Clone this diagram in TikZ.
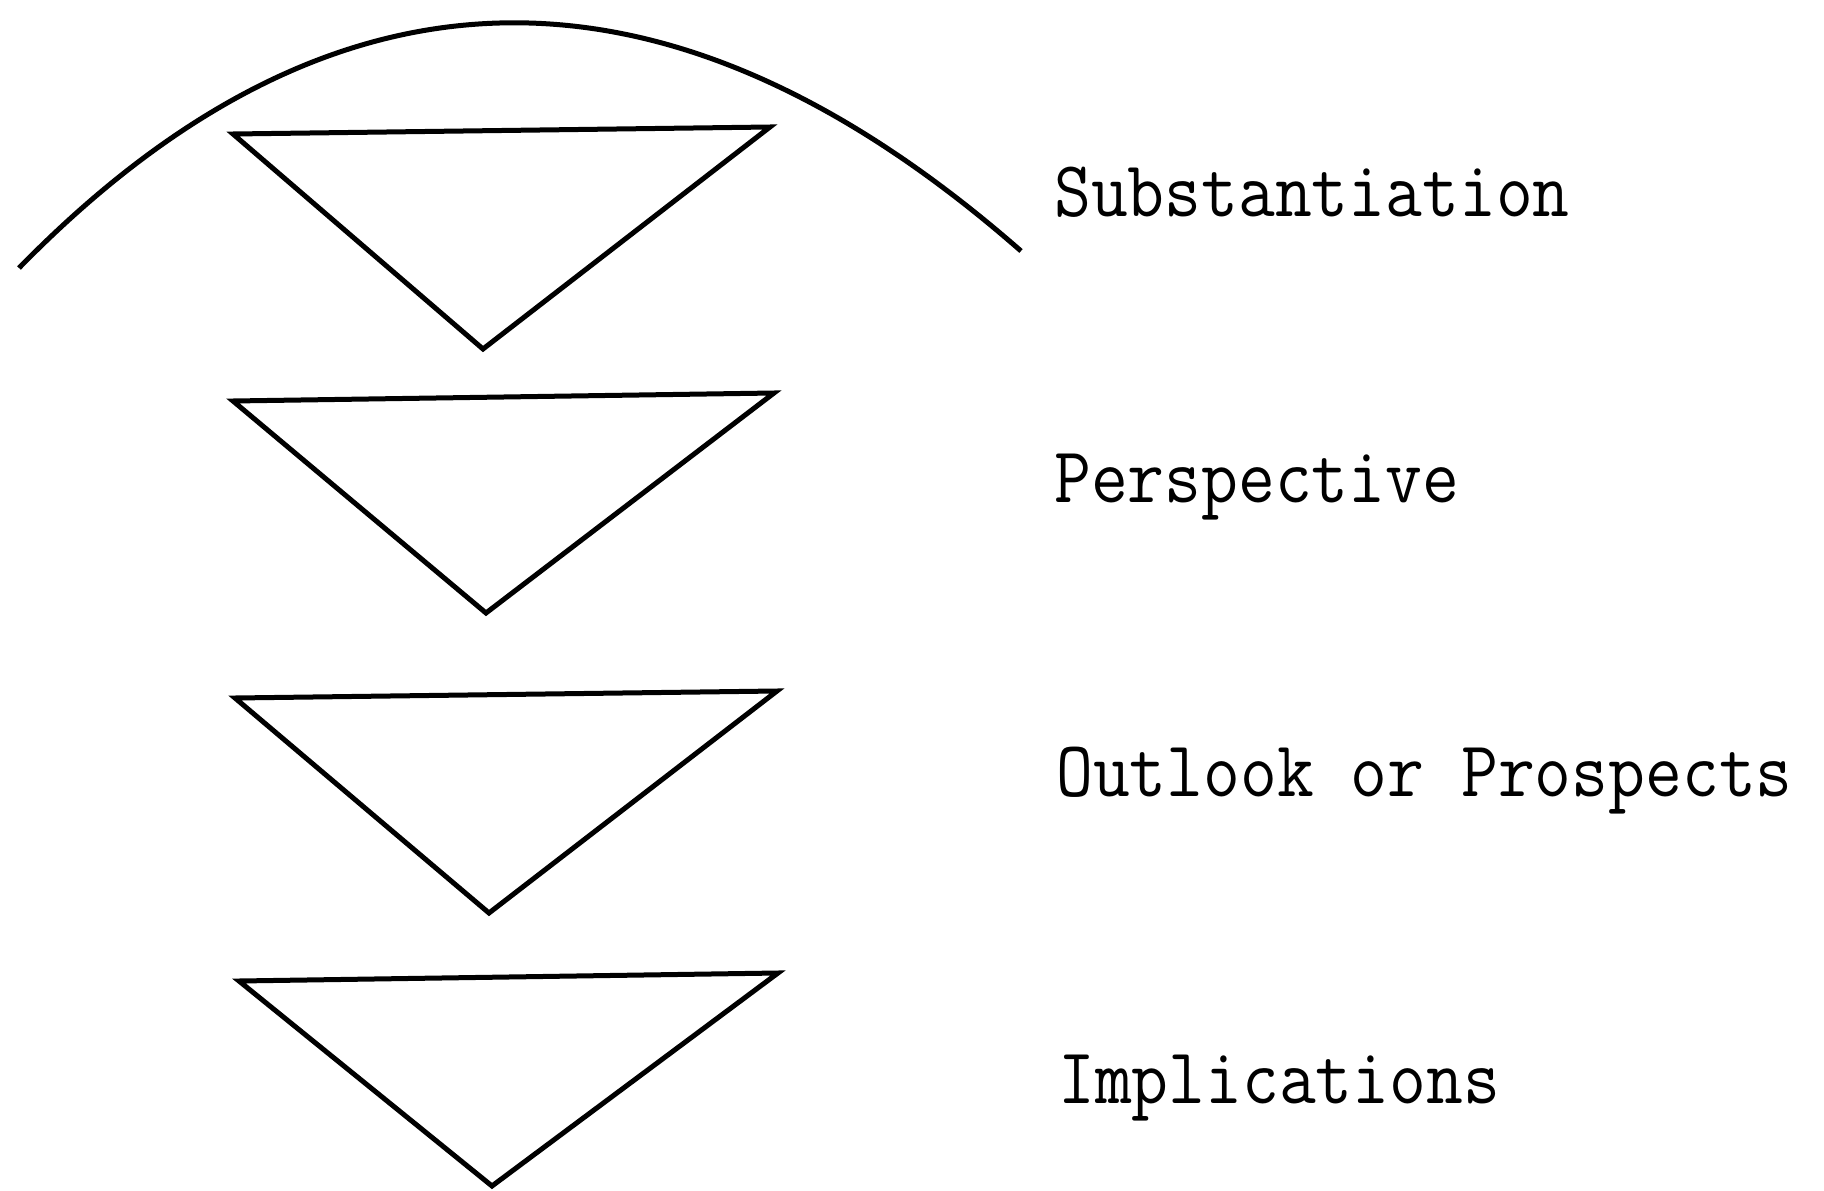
\documentclass[tikz,border=0pt]{standalone}
\usepackage{fontspec}
\usepackage{graphicx}
\begin{document}
\begin{tikzpicture}[x=1pt,y=-1pt,
  outln/.style={line width=5pt, line join=miter},
  lbl/.style={anchor=base west, inner sep=0pt, font=\ttfamily\fontsize{71.5}{80}\selectfont}]
\useasboundingbox (0,0) rectangle (1824,1191);
% arc
\coordinate (aL) at (19,268);
\coordinate (aR) at (1021,251);
\draw[outln] (aL) .. controls (333,-53) and (667,-59) .. (aR);
% triangles
\coordinate (t1a) at (233,134); \coordinate (t1b) at (770,127); \coordinate (t1c) at (483,349);
\coordinate (t2a) at (233,401); \coordinate (t2b) at (774,393); \coordinate (t2c) at (486,613);
\coordinate (t3a) at (235,698); \coordinate (t3b) at (777,691); \coordinate (t3c) at (489,913);
\coordinate (t4a) at (239,981); \coordinate (t4b) at (778,973); \coordinate (t4c) at (492,1186);
\draw[outln] (t1a) -- (t1b) -- (t1c) -- cycle;
\draw[outln] (t2a) -- (t2b) -- (t2c) -- cycle;
\draw[outln] (t3a) -- (t3b) -- (t3c) -- cycle;
\draw[outln] (t4a) -- (t4b) -- (t4c) -- cycle;
% labels
\node[lbl] (l1) at (1054,216) {\scalebox{1}[1.11]{Substantiation}};
\node[lbl] (l2) at (1054,502) {\scalebox{1}[1.11]{Perspective}};
\node[lbl] (l3) at (1056,796) {\scalebox{1}[1.11]{Outlook or Prospects}};
\node[lbl] (l4) at (1058,1103) {\scalebox{1}[1.11]{Implications}};
\end{tikzpicture}
\end{document}
